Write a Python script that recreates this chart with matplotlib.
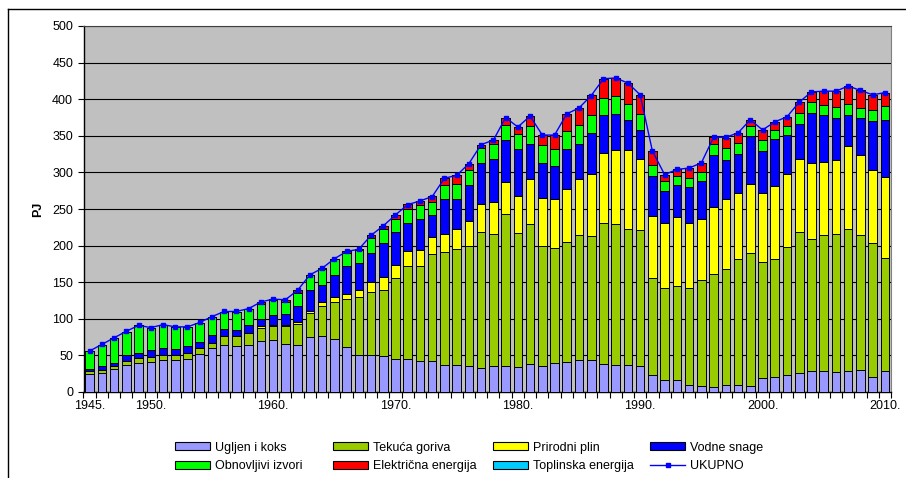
import numpy as np
import matplotlib
matplotlib.use("Agg")
import matplotlib.pyplot as plt
from matplotlib.lines import Line2D
from matplotlib.patches import Patch

plt.rcParams['font.family'] = ['Liberation Sans', 'DejaVu Sans']

# godine 1945. - 2010.
years = np.arange(1945, 2011)

# PJ, ocitano sa slike
ugljen = [25, 26.4, 31.9, 36.4, 39.6, 41, 44.2, 43.3, 45.5, 51.5,
          60, 64.7, 63, 64.7, 69.5, 71, 66, 64.7, 75.5, 76.5,
          72.9, 61.5, 50, 50.5, 49, 45.5, 45.5, 42.4, 42.4, 37.5,
          37.5, 36, 33.2, 36, 36, 34.5, 37.8, 35, 39.6, 41,
          43.3, 43.3, 38.7, 36.4, 37.3, 35, 22.8, 17, 15.9, 10.2,
          8.2, 6.8, 10, 10, 8.2, 19.1, 20.5, 23.7, 26.4, 28.2,
          28.2, 27.3, 28.2, 29.6, 20.5, 28.2]
tekuca = [3.7, 4.1, 3.6, 5.9, 6.4, 6.8, 6.3, 7.2, 8, 9,
          7.4, 12.3, 13, 15.3, 18.5, 18.5, 23.7, 28.6, 32.5, 41.5,
          50.1, 65.1, 79.8, 86.1, 90.8, 110.2, 127, 130.1, 146.6, 153.8,
          157.5, 163.7, 185.4, 179.4, 206.5, 182.7, 192.2, 165, 157.6, 164,
          170.7, 169.4, 192.6, 193.6, 185.8, 186.8, 133.2, 124.5, 128.9, 131.3,
          144.4, 153.9, 158.5, 171.2, 182.1, 158.5, 161.6, 174.4, 192.2, 181.3,
          185.8, 188.1, 194.9, 184.4, 183.1, 154.8]
plin = [0, 0, 0, 0, 0, 0, 0, 0, 0, 0,
        0, 0, 0, 0, 1.5, 1.5, 1.8, 2.7, 2.7, 4.5,
        6.8, 6.8, 9.1, 13.7, 17.3, 18.2, 20.5, 21.9, 22.7, 25,
        27.5, 34.3, 38.9, 44.2, 45, 50.3, 60.5, 65.5, 66.9, 72.8,
        77.4, 85.6, 95.7, 100.2, 107.1, 97, 84.4, 89.8, 94.2, 89.8,
        83.3, 92, 95.6, 90.7, 94.3, 94.3, 98.9, 100.2, 100.2, 103.3,
        100.2, 101.1, 112.9, 110.2, 100.1, 110.7]
vodne = [3.3, 4.5, 4.5, 8.2, 7.7, 9.2, 10.1, 7.8, 9.5, 8,
         10.6, 9, 9, 12, 9.8, 14.6, 14.5, 22, 28.3, 24.1,
         30.5, 39.2, 37.3, 39.6, 46.4, 44.7, 38, 42.6, 30.6, 47.2,
         41.5, 49.2, 55.5, 59.2, 57.2, 64.5, 48.8, 47.8, 44.2, 54.6,
         47.9, 55.5, 51.9, 50, 40.9, 38.7, 54.2, 42.8, 44.2, 48.7,
         51.9, 71.5, 52.4, 53.7, 64.7, 56.9, 65.1, 52.3, 47.8, 68.3,
         63.8, 57.8, 42.9, 50.6, 66.1, 78.3]
obnovljivi = [24, 29.5, 33.8, 31.5, 37.3, 30.4, 30.4, 30.5, 25.5, 25.5,
              24.5, 23, 24, 21.8, 20.5, 20.4, 17, 17, 20.4, 21.9,
              20.9, 17.7, 17.3, 20.9, 19.5, 18.2, 18.7, 18.9, 16.7, 19.7,
              20.6, 20.1, 20.3, 20.5, 19.6, 20, 23.7, 23.7, 24.1, 24.2,
              25, 24.2, 22.7, 23.8, 21.9, 22.7, 15.1, 13.7, 11.6, 12.5,
              12.7, 15.1, 16.8, 15, 13.6, 15, 11.4, 12.3, 15, 15.1,
              13.6, 15, 14.1, 13.2, 15, 18.7]
elektricna = [0, 0, 0, 0, 0, 0, 0, 0, 0, 0,
              0, 0, 0, 0, 3.2, 1, 3, 4, 0.6, 0.5,
              0.8, 1.7, 1.5, 3.2, 3.5, 5.2, 6.7, 4.8, 8.3, 9.1,
              11.4, 8.6, 4.7, 4.7, 10.7, 10, 13.6, 13.6, 18.2, 23.4,
              24.1, 27.3, 26.4, 25.4, 29, 26, 19.3, 9.2, 9.2, 13,
              12.8, 9.1, 14.2, 13.7, 9.1, 14.6, 11.4, 12.8, 14.6, 13.6,
              19.6, 21.9, 24.6, 24.1, 21.4, 18.2]
toplinska = [0] * 66
ukupno = [56, 65, 74, 83, 91, 88, 92, 89, 89, 95,
          103, 110, 110, 114, 123, 127, 126, 139, 160, 169,
          182, 192, 195, 214, 227, 242, 256, 261, 267, 292,
          296, 312, 338, 344, 375, 362, 377, 351, 351, 380,
          388, 405, 428, 429, 422, 406, 329, 297, 304, 306,
          313, 348, 348, 354, 372, 358, 369, 376, 396, 410,
          411, 411, 418, 412, 406, 409]

nazivi = ['Ugljen i koks', 'Tekuća goriva', 'Prirodni plin', 'Vodne snage',
          'Obnovljivi izvori', 'Električna energija', 'Toplinska energija']
boje = ['#9999FF', '#99CC00', '#FFFF00', '#0000FF', '#00FF00', '#FF0000', '#00CCFF']
serije = [ugljen, tekuca, plin, vodne, obnovljivi, elektricna, toplinska]

label_years = [1945, 1950, 1960, 1970, 1980, 1990, 2000, 2010]

fig = plt.figure(figsize=(9.06, 4.78), dpi=100)
ax = fig.add_axes([83.5 / 906, 1 - 392 / 478, (891 - 83.5) / 906, (392 - 26) / 478])
ax.set_facecolor('#C0C0C0')

bottom = np.zeros(len(years))
for vals, col in zip(serije, boje):
    vals = np.array(vals, dtype=float)
    ax.bar(years, vals, width=0.7, bottom=bottom, color=col,
           edgecolor='black', linewidth=0.7, zorder=3)
    bottom += vals

ax.plot(years, ukupno, color='#0000FF', linewidth=1, marker='s',
        markersize=2.5, zorder=4)

ax.set_xlim(1944.5, 2010.5)
ax.set_ylim(0, 500)
ax.set_yticks(np.arange(0, 501, 50))
ax.yaxis.grid(True, color='black', linewidth=0.8, zorder=1)
ax.set_axisbelow(True)

# kvacice izmedu kategorija, oznake samo za odabrane godine
ax.set_xticks(np.arange(1944.5, 2011, 1))
ax.set_xticklabels([])
ax.set_xticks(label_years, minor=True)
ax.set_xticklabels([str(y) + '.' for y in label_years], minor=True, fontsize=9)
ax.tick_params(axis='x', which='major', direction='out', length=4, width=0.8)
ax.tick_params(axis='x', which='minor', length=0, pad=6)
ax.tick_params(axis='y', direction='out', length=4, width=0.8, labelsize=9)

for s in ['left', 'bottom']:
    ax.spines[s].set_color('black')
    ax.spines[s].set_linewidth(1)
ax.spines['top'].set_color('#404040')
ax.spines['right'].set_color('#808080')

ax.set_ylabel('PJ', fontsize=9, fontweight='bold', labelpad=6)

handles = [Patch(facecolor=c, edgecolor='black', linewidth=0.8) for c in boje]
handles.append(Line2D([], [], color='#0000FF', linewidth=1, marker='s', markersize=2.5))
labels = nazivi + ['UKUPNO']

# legenda u 4 stupca jednake sirine
stupci_x = [175, 333, 493, 650]
for k, x in enumerate(stupci_x):
    fig.legend([handles[k], handles[k + 4]], [labels[k], labels[k + 4]],
               loc='center left', bbox_to_anchor=(x / 906, 1 - 457 / 478),
               frameon=False, fontsize=9, handlelength=2.8, handleheight=0.55,
               handletextpad=0.4, labelspacing=0.55, borderpad=0, borderaxespad=0)

# okvir grafikona
fig.add_artist(Line2D([8 / 906, 8 / 906], [0, 1 - 9 / 478], color='black', linewidth=1))
fig.add_artist(Line2D([8 / 906, 1], [1 - 9 / 478, 1 - 9 / 478], color='black', linewidth=1))

fig.savefig('out.png', dpi=100)
